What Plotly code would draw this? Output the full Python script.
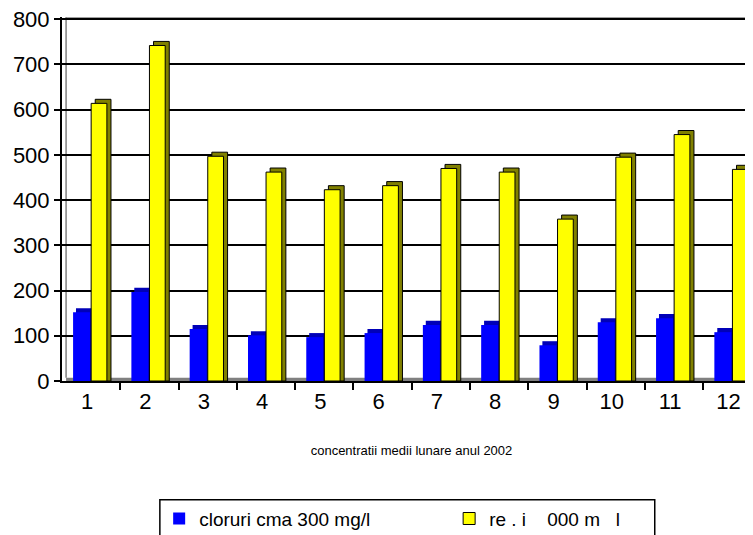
import plotly.graph_objects as go

months = ["1", "2", "3", "4", "5", "6", "7", "8", "9", "10", "11", "12"]
cloruri = [152, 197, 115, 101, 97, 106, 124, 124, 79, 130, 139, 108]
reziduu = [614, 742, 497, 462, 423, 432, 470, 462, 358, 495, 545, 468]
y_ticks = [0, 100, 200, 300, 400, 500, 600, 700, 800]

name_blue = "cloruri cma 300 mg/l" + "\u00a0" * 14
name_yellow = "re . i    000 m   l"

x = list(range(len(months)))
depth = 9  # pseudo-3D depth in value units

fig = go.Figure()

# pseudo-3D back faces
fig.add_trace(go.Bar(x=x, y=[v + depth for v in cloruri], offset=-0.26, width=0.29,
                     marker=dict(color="#0000b8", line=dict(width=0)),
                     showlegend=False, hoverinfo="skip"))
fig.add_trace(go.Bar(x=x, y=cloruri, offset=-0.31, width=0.29,
                     marker=dict(color="#0000ff", line=dict(width=0)),
                     name=name_blue))
fig.add_trace(go.Bar(x=x, y=[v + depth for v in reziduu], offset=0.07, width=0.27,
                     marker=dict(color="#808000", line=dict(color="black", width=1)),
                     showlegend=False, hoverinfo="skip"))
fig.add_trace(go.Bar(x=x, y=reziduu, offset=0.0, width=0.27,
                     marker=dict(color="#ffff00", line=dict(color="black", width=1)),
                     name=name_yellow))

fig.add_shape(type="rect", xref="x", yref="y", x0=-0.43, x1=11.6, y0=0, y1=7,
              fillcolor="#808080", line=dict(width=0), layer="below")
fig.add_shape(type="line", xref="x", yref="y", x0=-0.43, x1=-0.43, y0=7, y1=805,
              line=dict(color="#808080", width=1.5), layer="below")
fig.add_shape(type="line", xref="x", yref="y", x0=-0.43, x1=11.6, y0=805, y1=805,
              line=dict(color="#808080", width=1.5), layer="below")
# legend frame
fig.add_shape(type="rect", xref="paper", yref="paper", x0=0.140, x1=0.848, y0=-0.47, y1=-0.326,
              line=dict(color="black", width=1.5), fillcolor="rgba(0,0,0,0)")

fig.update_layout(
    width=753, height=535,
    barmode="overlay",
    paper_bgcolor="white", plot_bgcolor="white",
    margin=dict(l=54, r=0, t=9, b=162, autoexpand=False),
    font=dict(family="Liberation Sans, Arial, sans-serif", color="black"),
    xaxis=dict(
        range=[-0.5, 11.49],
        tickmode="array", tickvals=x, ticktext=months,
        tickfont=dict(size=22), ticklabelshift=-4,
        ticks="", showgrid=False, zeroline=False,
        showline=True, linecolor="black", linewidth=2,
        minor=dict(tickmode="array", tickvals=[i + 0.5 for i in x[:-1]],
                   ticks="outside", ticklen=7, tickwidth=2, tickcolor="black", showgrid=False),
        title=dict(text="concentratii medii lunare anul 2002", font=dict(size=13), standoff=32),
    ),
    yaxis=dict(
        range=[0, 805],
        tickmode="array", tickvals=y_ticks,
        tickfont=dict(size=22), ticklabeloverflow="allow",
        ticks="outside", ticklen=6, tickcolor="black", tickwidth=2,
        showgrid=True, gridcolor="black", gridwidth=2,
        showline=True, linecolor="black", linewidth=2,
        zeroline=False,
    ),
    legend=dict(
        orientation="h", x=0.139, y=-0.326, xanchor="left", yanchor="top",
        borderwidth=0, bgcolor="rgba(0,0,0,0)",
        font=dict(size=19), itemwidth=30,
        traceorder="normal",
    ),
)

fig.write_html("out.html")
